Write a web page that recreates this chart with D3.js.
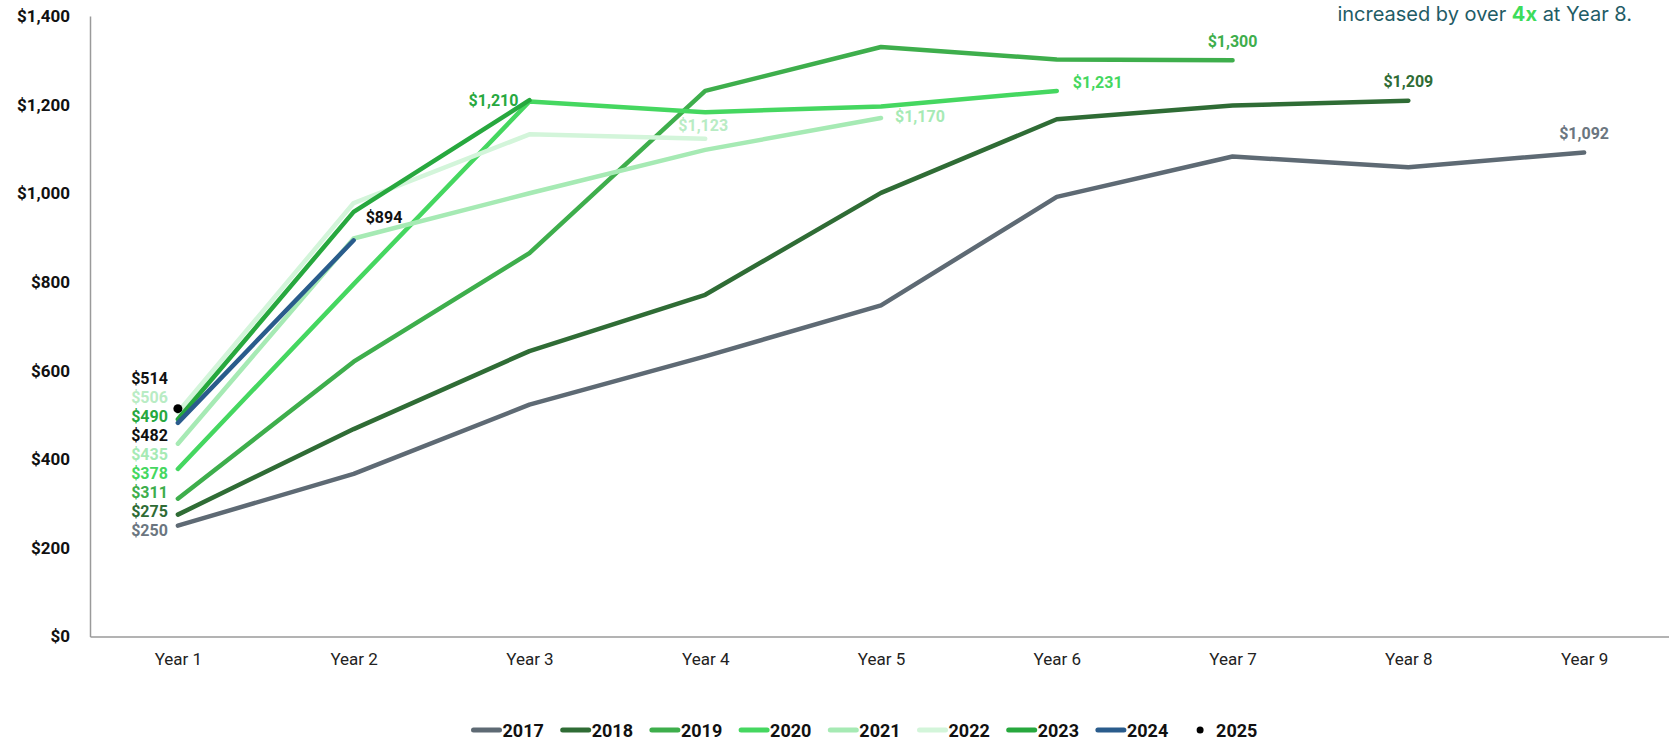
<!DOCTYPE html>
<html>
<head>
<meta charset="utf-8">
<script src="https://cdn.jsdelivr.net/npm/d3@7"></script>
<style>
  html, body { margin: 0; padding: 0; background: #ffffff; }
  svg { display: block; }
</style>
</head>
<body>
<svg id="chart" width="1669" height="739"></svg>
<script>
// ---------------- DATA ----------------
const years = ["Year 1", "Year 2", "Year 3", "Year 4", "Year 5", "Year 6", "Year 7", "Year 8", "Year 9"];
const cohorts = ["2017", "2018", "2019", "2020", "2021", "2022", "2023", "2024", "2025"];
const yTicks = [0, 200, 400, 600, 800, 1000, 1200, 1400];

const s2017 = [250, 367, 523, 632, 747, 992, 1083, 1059, 1092];
const s2018 = [275, 468, 644, 771, 1001, 1167, 1198, 1209];
const s2019 = [311, 620, 865, 1231, 1330, 1302, 1300];
const s2020 = [378, 795, 1207, 1183, 1196, 1231];
const s2021 = [435, 898, 1000, 1098, 1170];
const s2022 = [506, 978, 1133, 1123];
const s2023 = [490, 958, 1210];
const s2024 = [482, 894];
const s2025 = [514];
const seriesValues = [s2017, s2018, s2019, s2020, s2021, s2022, s2023, s2024, s2025];

// ---------------- STYLE ----------------
const lineColors  = ["#5e6a74", "#2f6c35", "#3eae4c", "#45d760", "#a6eab4", "#d3f5da", "#27a83e", "#2a5c8c", "#000000"];
const labelColors = ["#6b7680", "#2f6c35", "#3eae4c", "#45d760", "#a6eab4", "#b9ecc4", "#27a83e", "#111111", "#111111"];
// where the end-of-series label sits relative to its last point
const endPlacement = ["above", "above", "above", "right-up", "right", "above-near", "left", "right-above", "stack"];

const W = 1669, H = 739;
const svg = d3.select("#chart");

const x = d3.scalePoint().domain(years).range([90, 1672]).padding(0.5);
const y = d3.scaleLinear().domain([0, 1400]).range([636.5, 16]);
const fmt = v => "$" + d3.format(",")(v);

// ---------------- AXES ----------------
const yAxis = d3.axisLeft(y).tickValues(yTicks).tickSize(0).tickPadding(20).tickFormat(fmt);
const gy = svg.append("g").attr("transform", "translate(90,0)").call(yAxis);
gy.select(".domain").attr("stroke", "#9a9a9a").attr("stroke-width", 1.5);
gy.selectAll("text")
  .attr("font-family", "Roboto, sans-serif")
  .attr("font-weight", 700)
  .attr("font-size", 17)
  .attr("fill", "#111");

const xAxis = d3.axisBottom(x).tickSize(0).tickPadding(16);
const gx = svg.append("g").attr("transform", "translate(0,636.5)").call(xAxis);
gx.select(".domain").attr("stroke", "#9a9a9a").attr("stroke-width", 1.5);
gx.selectAll("text")
  .attr("font-family", "Roboto, sans-serif")
  .attr("font-size", 17)
  .attr("fill", "#222");

// ---------------- LINES ----------------
const line = d3.line().x((d, i) => x(years[i])).y(d => y(d));
const g = svg.append("g");
seriesValues.forEach((vals, k) => {
  if (vals.length > 1) {
    g.append("path")
      .datum(vals)
      .attr("d", line)
      .attr("fill", "none")
      .attr("stroke", lineColors[k])
      .attr("stroke-width", 4.5)
      .attr("stroke-linecap", "round")
      .attr("stroke-linejoin", "round");
  } else {
    g.append("circle")
      .attr("cx", x(years[0]))
      .attr("cy", y(vals[0]))
      .attr("r", 4.5)
      .attr("fill", lineColors[k]);
  }
});

// ---------------- LABELS ----------------
const labelFont = { family: "Roboto, sans-serif", size: 16, weight: 700 };
function addLabel(tx, ty, text, color, anchor) {
  svg.append("text")
    .attr("x", tx).attr("y", ty)
    .attr("text-anchor", anchor)
    .attr("dominant-baseline", "central")
    .attr("font-family", labelFont.family)
    .attr("font-size", labelFont.size)
    .attr("font-weight", labelFont.weight)
    .attr("fill", color)
    .text(text);
}

// Year 1 start labels, dodged vertically
const startItems = seriesValues.map((vals, k) => ({ k, v: vals[0], y0: y(vals[0]) }));
function dodge(items, gap) {
  items.sort((a, b) => a.y0 - b.y0);
  let clusters = items.map(d => ({ members: [d], y: d.y0 }));
  let changed = true;
  while (changed) {
    changed = false;
    for (let i = 0; i < clusters.length - 1; i++) {
      const a = clusters[i], b = clusters[i + 1];
      const aEnd = a.y + (a.members.length - 1) * gap / 2;
      const bStart = b.y - (b.members.length - 1) * gap / 2;
      if (bStart - aEnd < gap) {
        const members = a.members.concat(b.members);
        clusters.splice(i, 2, { members, y: d3.mean(members, m => m.y0) });
        changed = true;
        break;
      }
    }
  }
  clusters.forEach(c => c.members.forEach((m, j) => {
    m.y = c.y + (j - (c.members.length - 1) / 2) * gap;
  }));
}
dodge(startItems, 19);
startItems.forEach(d => addLabel(x(years[0]) - 10, d.y - 3, fmt(d.v), labelColors[d.k], "end"));

// End labels
seriesValues.forEach((vals, k) => {
  const i = vals.length - 1;
  if (i === 0) return;
  const px = x(years[i]), py = y(vals[i]), t = fmt(vals[i]), c = labelColors[k];
  switch (endPlacement[k]) {
    case "above":       addLabel(px, py - 19, t, c, "middle"); break;
    case "above-near":  addLabel(px - 2, py - 13, t, c, "middle"); break;
    case "right-up":    addLabel(px + 16, py - 8, t, c, "start"); break;
    case "right":       addLabel(px + 14, py - 1, t, c, "start"); break;
    case "left":        addLabel(px - 11, py, t, c, "end"); break;
    case "right-above": addLabel(px + 12, py - 23, t, c, "start"); break;
  }
});

// ---------------- ANNOTATION (top right) ----------------
const ann = svg.append("text")
  .attr("x", 1632).attr("y", 21)
  .attr("text-anchor", "end")
  .attr("font-family", "Inter, sans-serif")
  .attr("font-size", 20)
  .attr("fill", "#1f5c66");
ann.append("tspan").text("increased by over ");
ann.append("tspan").attr("font-weight", 700).attr("fill", "#3ddc5b").text("4x");
ann.append("tspan").text(" at Year 8.");

// ---------------- LEGEND ----------------
const legend = svg.append("g").attr("transform", "translate(471.5,730)");
const step = 89.2;
cohorts.forEach((c, k) => {
  const gi = legend.append("g").attr("transform", `translate(${k * step},0)`);
  if (seriesValues[k].length > 1) {
    gi.append("line")
      .attr("x1", 2).attr("x2", 28).attr("y1", 0).attr("y2", 0)
      .attr("stroke", lineColors[k]).attr("stroke-width", 5).attr("stroke-linecap", "round");
  } else {
    gi.append("circle").attr("cx", 15).attr("cy", 0).attr("r", 3.5).attr("fill", lineColors[k]);
  }
  gi.append("text")
    .attr("x", 31).attr("y", 0)
    .attr("dominant-baseline", "central")
    .attr("font-family", "Roboto, sans-serif")
    .attr("font-weight", 700)
    .attr("font-size", 18)
    .attr("fill", "#111")
    .text(c);
});
</script>
</body>
</html>
